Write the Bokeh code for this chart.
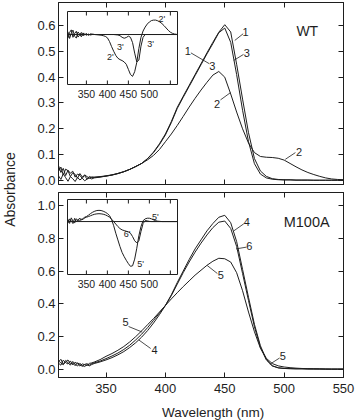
from bokeh.plotting import figure
from bokeh.models import (Range1d, LinearAxis, FixedTicker, Label, Row, Column,
                          CustomJSTickFormatter, PrintfTickFormatter)
from bokeh.embed import file_html
from bokeh.resources import INLINE
from bokeh.core.properties import value

FONT = "Liberation Sans"
INK = "#1e1e1e"

# ---------------- data ----------------
wl_noise = [310, 312, 314, 316, 318, 320, 322, 324, 326, 328, 330, 332, 334, 336, 338]
wl_main = [340, 345, 350, 355, 360, 365, 370, 375, 380, 385, 390, 395, 400, 405, 410,
           415, 420, 425, 430, 435, 440, 445, 450, 455, 460, 465, 470, 475, 480, 485,
           490, 495, 500, 505, 510, 515, 520, 525, 530, 535, 540, 545, 550]
wavelength = wl_noise + wl_main

# WT panel
wt1 = [0.035, 0.052, 0.021, 0.044, 0.038, 0.015, 0.030, 0.024, 0.009, 0.027, 0.014, 0.019, 0.006, 0.016, 0.011,
       0.012, 0.014, 0.017, 0.021, 0.027, 0.034, 0.043, 0.054, 0.066, 0.085, 0.110, 0.142, 0.180, 0.228, 0.283,
       0.326, 0.368, 0.410, 0.452, 0.494, 0.535, 0.574, 0.603, 0.575, 0.450, 0.315, 0.185, 0.085, 0.037, 0.016,
       0.007, 0.004, 0.003, 0.003, 0.002, 0.002, 0.002, 0.001, 0.001, 0.001, 0.001, 0.001, 0.001]
wt2 = [0.018, 0.004, 0.026, 0.011, -0.003, 0.015, 0.007, -0.004, 0.012, 0.002, 0.009, -0.001, 0.005, 0.010, 0.006,
       0.010, 0.013, 0.017, 0.021, 0.027, 0.034, 0.043, 0.054, 0.066, 0.080, 0.097, 0.120, 0.150, 0.180, 0.213,
       0.248, 0.284, 0.318, 0.350, 0.380, 0.408, 0.422, 0.400, 0.335, 0.265, 0.200, 0.145, 0.108, 0.093, 0.090,
       0.089, 0.086, 0.079, 0.066, 0.053, 0.041, 0.031, 0.023, 0.016, 0.010, 0.006, 0.004, 0.003]
wt3 = [0.058, 0.031, 0.047, 0.019, 0.040, 0.028, 0.036, 0.013, 0.025, 0.020, 0.008, 0.022, 0.015, 0.009, 0.014,
       0.013, 0.015, 0.018, 0.022, 0.027, 0.034, 0.043, 0.054, 0.066, 0.084, 0.108, 0.139, 0.176, 0.224, 0.279,
       0.322, 0.364, 0.406, 0.448, 0.490, 0.530, 0.572, 0.590, 0.535, 0.410, 0.272, 0.150, 0.065, 0.025, 0.010,
       0.005, 0.003, 0.002, 0.002, 0.001, 0.001, 0.001, 0.001, 0.001, 0.001, 0.001, 0.001, 0.001]

# M100A panel
m4 = [0.047, 0.062, 0.031, 0.055, 0.041, 0.026, 0.049, 0.033, 0.021, 0.037, 0.024, 0.018, 0.029, 0.022, 0.030,
      0.036, 0.046, 0.058, 0.072, 0.089, 0.109, 0.134, 0.163, 0.197, 0.237, 0.283, 0.334, 0.390, 0.455, 0.530,
      0.600, 0.670, 0.735, 0.790, 0.845, 0.890, 0.928, 0.940, 0.895, 0.780, 0.610, 0.440, 0.275, 0.145, 0.062,
      0.022, 0.010, 0.006, 0.005, 0.004, 0.004, 0.003, 0.003, 0.003, 0.002, 0.002, 0.002, 0.002]
m5 = [0.038, 0.026, 0.057, 0.042, 0.033, 0.052, 0.028, 0.044, 0.035, 0.021, 0.034, 0.029, 0.024, 0.037, 0.040,
      0.045, 0.060, 0.080, 0.097, 0.117, 0.140, 0.168, 0.200, 0.235, 0.273, 0.310, 0.350, 0.390, 0.430, 0.468,
      0.505, 0.540, 0.575, 0.605, 0.635, 0.660, 0.678, 0.675, 0.655, 0.590, 0.480, 0.350, 0.230, 0.130, 0.068,
      0.036, 0.022, 0.015, 0.011, 0.008, 0.006, 0.005, 0.004, 0.003, 0.003, 0.002, 0.002, 0.002]
m6 = [0.052, 0.040, 0.029, 0.046, 0.058, 0.034, 0.039, 0.023, 0.041, 0.030, 0.019, 0.031, 0.035, 0.027, 0.036,
      0.040, 0.051, 0.066, 0.082, 0.100, 0.122, 0.148, 0.180, 0.215, 0.255, 0.299, 0.344, 0.390, 0.450, 0.520,
      0.590, 0.655, 0.715, 0.770, 0.820, 0.865, 0.898, 0.905, 0.860, 0.750, 0.585, 0.420, 0.260, 0.135, 0.058,
      0.022, 0.010, 0.006, 0.005, 0.004, 0.004, 0.003, 0.003, 0.003, 0.002, 0.002, 0.002, 0.002]

# difference spectra (insets)
wl_inset = [306, 310, 314, 318, 322, 326, 330, 334, 338, 342, 346,
            350, 355, 360, 365, 370, 375, 380, 385, 390, 395, 400, 405, 410, 415, 420, 425, 430, 435,
            440, 445, 450, 455, 460, 465, 470, 475, 480, 485, 490, 495, 500, 505, 510, 515, 520, 525,
            530, 535, 540, 545, 550, 555, 560, 565]
d2 = [0.012, -0.017, 0.006, 0.019, -0.008, -0.015, 0.011, 0.002, -0.010, 0.007, -0.003,
      0.005, -0.004, 0.003, 0.001, 0.000, -0.001, -0.002, -0.003, -0.005, -0.008, -0.014, -0.030, -0.052,
      -0.072, -0.090, -0.102, -0.108, -0.112, -0.118, -0.128, -0.150, -0.172, -0.180, -0.160, -0.120, -0.060,
      -0.012, 0.015, 0.032, 0.045, 0.054, 0.060, 0.062, 0.062, 0.059, 0.054, 0.047, 0.038, 0.028, 0.018,
      0.010, 0.005, 0.002, 0.001]
d3 = [-0.016, 0.009, 0.020, -0.012, 0.004, 0.014, -0.011, -0.002, 0.009, -0.006, 0.004,
      -0.003, 0.002, -0.002, 0.001, 0.000, 0.000, 0.000, 0.000, 0.000, 0.000, 0.000, 0.000, 0.000,
      0.000, -0.001, -0.002, -0.005, -0.012, -0.016, -0.013, -0.007, -0.012, -0.035, -0.080, -0.118, -0.110,
      -0.050, -0.012, 0.000, 0.000, 0.000, 0.000, 0.000, 0.000, 0.000, 0.000, 0.000, 0.000, 0.000, 0.000,
      0.000, 0.000, 0.000, 0.000]
d5 = [0.014, -0.011, 0.022, 0.003, -0.009, 0.017, 0.006, 0.021, 0.009, 0.018, 0.026,
      0.030, 0.038, 0.048, 0.056, 0.062, 0.066, 0.067, 0.066, 0.062, 0.056, 0.048, 0.036, 0.012,
      -0.025, -0.070, -0.110, -0.150, -0.185, -0.210, -0.232, -0.252, -0.268, -0.265, -0.225, -0.160, -0.085,
      -0.030, 0.005, 0.016, 0.020, 0.020, 0.016, 0.010, 0.005, 0.002, 0.001, 0.000, 0.000, 0.000, 0.000,
      0.000, 0.000, 0.000, 0.000]
d6 = [-0.010, 0.016, 0.004, -0.012, 0.019, -0.002, 0.011, 0.003, 0.015, 0.012, 0.022,
      0.026, 0.030, 0.035, 0.040, 0.044, 0.046, 0.047, 0.046, 0.044, 0.040, 0.034, 0.026, 0.014,
      0.000, -0.015, -0.030, -0.042, -0.050, -0.054, -0.058, -0.062, -0.070, -0.090, -0.115, -0.128, -0.115,
      -0.060, -0.012, 0.006, 0.004, 0.001, 0.000, 0.000, 0.000, 0.000, 0.000, 0.000, 0.000, 0.000, 0.000,
      0.000, 0.000, 0.000, 0.000]

x_ticks = [350, 400, 450, 500, 550]
wt_y_ticks = [0.0, 0.1, 0.2, 0.3, 0.4, 0.5, 0.6]
m_y_ticks = [0.0, 0.2, 0.4, 0.6, 0.8, 1.0]
inset_tick_labels = ["350", "400", "450", "500", ""]

# curve labels: text, label x, label y, leader x0, y0, x1, y1
wt_labels = ["1", "3", "1", "3", "2", "2"]
wt_lab_x = [467.5, 468.5, 418.8, 439.6, 443.6, 512.5]
wt_lab_y = [0.576, 0.493, 0.503, 0.445, 0.297, 0.110]
wt_lead_x0 = [458.4, 457.6, 421.5, 446.4, 501.0]
wt_lead_y0 = [0.542, 0.465, 0.494, 0.312, 0.082]
wt_lead_x1 = [465.5, 465.8, 437.0, 454.8, 509.5]
wt_lead_y1 = [0.568, 0.488, 0.452, 0.340, 0.108]

m_labels = ["4", "6", "5", "5", "5", "4"]
m_lab_x = [468.5, 470.7, 446.6, 498.9, 366.4, 390.9]
m_lab_y = [0.900, 0.752, 0.573, 0.085, 0.289, 0.116]
m_lead_x0 = [457.6, 459.5, 435.2, 488.0, 369.0, 387.6]
m_lead_y0 = [0.845, 0.735, 0.634, 0.032, 0.262, 0.128]
m_lead_x1 = [466.0, 468.3, 443.8, 496.2, 380.5, 377.6]
m_lead_y1 = [0.888, 0.746, 0.585, 0.070, 0.228, 0.180]

in2_labels = ["2'", "3'", "3'", "2'"]
in2_x = [530, 431, 503, 407]
in2_y = [0.068, -0.055, -0.040, -0.097]
in5_labels = ["6'", "5'", "5'"]
in5_x = [447, 514, 479]
in5_y = [-0.074, 0.026, -0.253]

# inset data extents
inset_x = (305, 567)
inset_wt_y = (-0.215, 0.099)
inset_m_y = (-0.317, 0.132)

# ---------------- geometry (pixels) ----------------
LABEL_W = 18
XLAB_H = 20
FRAME_L, FRAME_R = 58, 343


def make_fig(xr, yr, fw, fh, bl, br, bt, bb):
    p = figure(width=fw + bl + br, height=fh + bt + bb, x_range=xr, y_range=yr,
               x_axis_type=None, y_axis_type=None,
               output_backend="svg", toolbar_location=None,
               min_border_left=bl, min_border_right=br, min_border_top=bt, min_border_bottom=bb)
    p.outline_line_color = INK
    p.outline_line_width = 1
    p.background_fill_color = "white"
    p.border_fill_color = "white"
    return p


def add_axis(p, side, ticks, show_labels=False, fmt=None, font_size="13px", standoff=3, tick_in=5):
    ax = LinearAxis(ticker=FixedTicker(ticks=ticks), major_tick_in=tick_in, major_tick_out=0,
                    minor_tick_line_color=None, axis_line_color=INK, major_tick_line_color=INK,
                    major_label_text_font=FONT, major_label_text_font_size=font_size,
                    major_label_text_color=INK, major_label_standoff=standoff)
    if show_labels:
        if fmt is not None:
            ax.formatter = fmt
    else:
        ax.formatter = CustomJSTickFormatter(code="return ''")
        ax.major_label_standoff = 0
        ax.major_label_text_font_size = "0px"
    p.add_layout(ax, side)
    return ax


def draw_labels(p, labels, lx, ly, x0, y0, x1, y1, size="11px"):
    p.segment(x0=x0, y0=y0, x1=x1, y1=y1, line_color=INK, line_width=0.8)
    p.text(x=lx, y=ly, text=labels, text_font=value(FONT), text_font_size=size,
           text_align="center", text_baseline="middle", text_color=INK)


def add_inset(p, name, frame_top, frame_bot, box, xdat, ydat, curves, labels, lx, ly):
    """Inset drawn on extra ranges of the main panel; box = (left, top, right, bottom) px."""
    bl, bt, br, bb = box
    xs = (xdat[1] - xdat[0]) / (br - bl)
    ys = (ydat[1] - ydat[0]) / (bb - bt)
    p.extra_x_ranges[name] = Range1d(xdat[0] - (bl - FRAME_L) * xs, xdat[1] + (FRAME_R - br) * xs)
    p.extra_y_ranges[name] = Range1d(ydat[0] - (frame_bot - bb) * ys, ydat[1] + (bt - frame_top) * ys)
    kw = dict(x_range_name=name, y_range_name=name)
    p.quad(left=[xdat[0]], right=[xdat[1]], bottom=[ydat[0]], top=[ydat[1]],
           fill_color="white", line_color=INK, line_width=1, **kw)
    p.segment(x0=[xdat[0]], y0=[0], x1=[xdat[1]], y1=[0], line_color=INK, line_width=1, **kw)
    tick = 4 * ys
    p.segment(x0=x_ticks, y0=[ydat[0]] * len(x_ticks), x1=x_ticks, y1=[ydat[0] + tick] * len(x_ticks),
              line_color=INK, line_width=1, **kw)
    p.segment(x0=x_ticks, y0=[ydat[1]] * len(x_ticks), x1=x_ticks, y1=[ydat[1] - tick] * len(x_ticks),
              line_color=INK, line_width=1, **kw)
    p.text(x=x_ticks, y=[ydat[0] - 9 * ys] * len(x_ticks), text=inset_tick_labels,
           text_font=value(FONT), text_font_size="10.5px", text_align="center",
           text_baseline="middle", text_color=INK, **kw)
    for c in curves:
        p.line(wl_inset, c, line_color=INK, line_width=1, **kw)
    p.text(x=lx, y=ly, text=labels, text_font=value(FONT), text_font_size="9px",
           text_align="center", text_baseline="middle", text_color=INK, **kw)


FW = FRAME_R - FRAME_L
BL = FRAME_L - LABEL_W
BR = 355 - FRAME_R

# ---------------- WT (top) panel: frame y 2..184 ----------------
p_top = make_fig(Range1d(310, 550), Range1d(-0.0155, 0.689), FW, 182, BL, BR, 2, 6)
add_axis(p_top, "left", wt_y_ticks, True, PrintfTickFormatter(format="%.1f"))
add_axis(p_top, "right", wt_y_ticks)
add_axis(p_top, "above", x_ticks)
add_axis(p_top, "below", x_ticks)
for ys_ in [wt1, wt2, wt3]:
    p_top.line(wavelength, ys_, line_color=INK, line_width=1.0)
draw_labels(p_top, wt_labels, wt_lab_x, wt_lab_y, wt_lead_x0, wt_lead_y0, wt_lead_x1, wt_lead_y1)
p_top.text(x=[519.5], y=[0.58], text=["WT"], text_font=value(FONT), text_font_size="14px",
           text_align="center", text_baseline="middle", text_color=INK)
add_inset(p_top, "ins", 2, 184, (67, 11, 177, 84), inset_x, inset_wt_y, [d2, d3],
          in2_labels, in2_x, in2_y)

# ---------------- M100A (bottom) panel: frame y 192..377 ----------------
p_bot = make_fig(Range1d(310, 550), Range1d(-0.049, 1.079), FW, 185, BL, BR, 2, 23)
add_axis(p_bot, "left", m_y_ticks, True, PrintfTickFormatter(format="%.1f"))
add_axis(p_bot, "right", m_y_ticks)
add_axis(p_bot, "above", x_ticks)
add_axis(p_bot, "below", x_ticks, True, standoff=6)
for ys_ in [m4, m5, m6]:
    p_bot.line(wavelength, ys_, line_color=INK, line_width=1.0)
draw_labels(p_bot, m_labels, m_lab_x, m_lab_y, m_lead_x0, m_lead_y0, m_lead_x1, m_lead_y1)
p_bot.text(x=[519.0], y=[0.90], text=["M100A"], text_font=value(FONT), text_font_size="14.5px",
           text_align="center", text_baseline="middle", text_color=INK)
add_inset(p_bot, "ins", 192, 377, (67, 199, 177, 274), inset_x, inset_m_y, [d5, d6],
          in5_labels, in5_x, in5_y)

# ---------------- x-axis title strip (below the M100A panel) ----------------
XW = 355 - LABEL_W
p_xlab = figure(width=XW, height=XLAB_H, x_range=Range1d(0, XW), y_range=Range1d(0, XLAB_H),
                x_axis_type=None, y_axis_type=None, output_backend="svg", toolbar_location=None,
                min_border=0)
p_xlab.outline_line_color = None
p_xlab.add_layout(Label(x=200.8 - LABEL_W, y=8, text="Wavelength (nm)", text_font=FONT,
                        text_font_size="13.5px", text_color=INK,
                        text_align="center", text_baseline="middle"))

# ---------------- shared y-axis title ----------------
p_lab = figure(width=LABEL_W, height=420, x_range=Range1d(0, LABEL_W), y_range=Range1d(0, 420),
               x_axis_type=None, y_axis_type=None, output_backend="svg", toolbar_location=None,
               min_border=0)
p_lab.outline_line_color = None
p_lab.add_layout(Label(x=9, y=420 - 189, text="Absorbance", angle=90, angle_units="deg",
                       text_font=FONT, text_font_size="14px", text_color=INK,
                       text_align="center", text_baseline="middle"))

layout = Row(children=[p_lab, Column(children=[p_top, p_bot, p_xlab])])

open("out.html", "w").write(file_html(layout, INLINE))
